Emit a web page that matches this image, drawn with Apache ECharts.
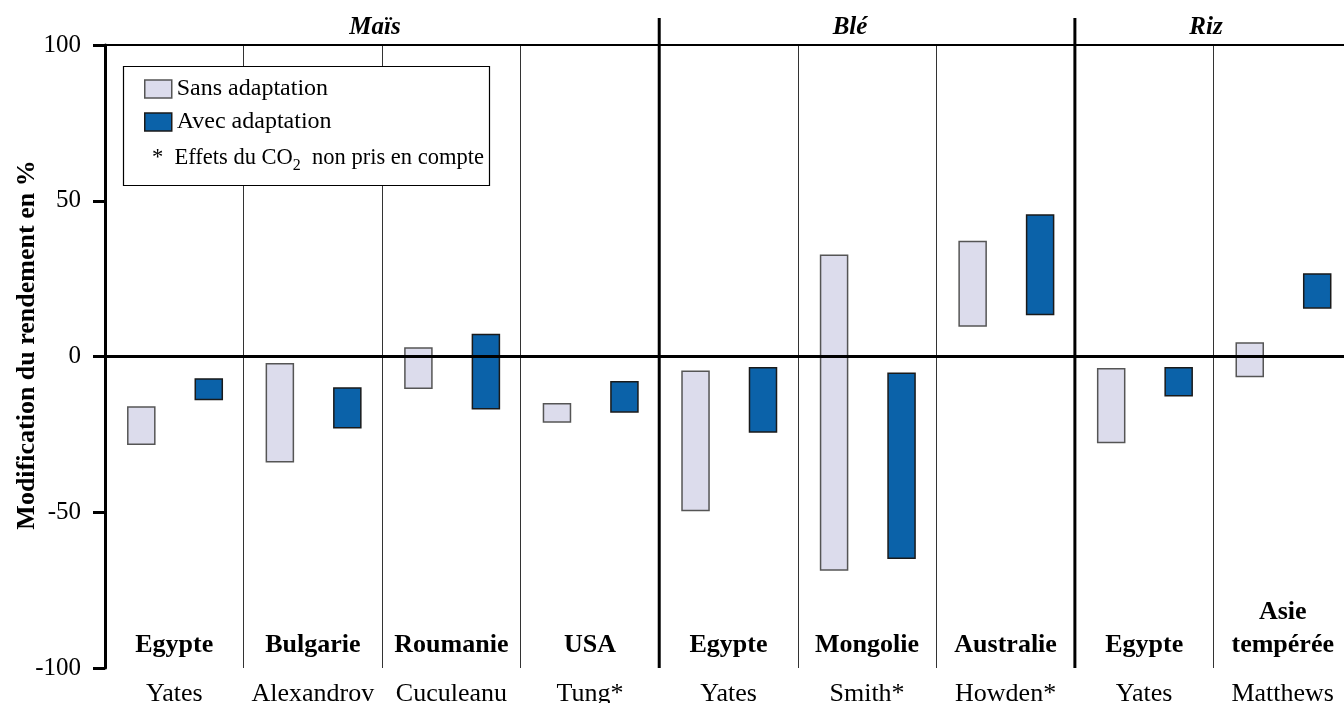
<!DOCTYPE html>
<html>
<head>
<meta charset="utf-8">
<script src="https://cdn.jsdelivr.net/npm/echarts@6/dist/echarts.min.js"></script>
<style>
html,body{margin:0;padding:0;background:#fff;}
#chart{width:1344px;height:703px;}
</style>
</head>
<body>
<div id="chart"></div>
<script>
// ---- Data ----
const authors = ['Yates', 'Alexandrov', 'Cuculeanu', 'Tung*', 'Yates', 'Smith*', 'Howden*', 'Yates', 'Matthews'];
const countries = ['Egypte', 'Bulgarie', 'Roumanie', 'USA', 'Egypte', 'Mongolie', 'Australie', 'Egypte', 'Asie\ntempérée'];
const cropNames = ['Maïs', 'Blé', 'Riz'];
const cropLastIndex = [3, 6, 8];
const sansLow  = [-28.2, -33.8, -10.2, -21.0, -49.4, -68.5, 9.8, -27.6, -6.4];
const sansHigh = [-16.2, -2.3, 2.7, -15.2, -4.7, 32.5, 36.9, -3.9, 4.3];
const avecLow  = [-13.8, -22.9, -16.8, -17.8, -24.2, -64.8, 13.5, -12.6, 15.6];
const avecHigh = [-7.2, -10.1, 7.1, -8.1, -3.6, -5.4, 45.4, -3.6, 26.5];
const yTicks = [-100, -50, 0, 50, 100];
const yAxisTitle = 'Modification du rendement en %';

const FONT = 'Liberation Serif';
const SANS_FILL = '#dcdcec', SANS_STROKE = '#555555';
const AVEC_FILL = '#0b62a9', AVEC_STROKE = '#1a1a1a';

function rangeRenderer(offset, fill, stroke) {
  return function (params, api) {
    const i = api.value(0);
    const lo = api.value(1), hi = api.value(2);
    const pTop = api.coord([i, hi]);
    const pBot = api.coord([i, lo]);
    const band = api.size([1, 0])[0];
    const w = band * 0.195;
    const cx = pTop[0] + offset * band;
    return {
      type: 'rect',
      shape: { x: cx - w / 2, y: pTop[1], width: w, height: pBot[1] - pTop[1] },
      style: { fill: fill, stroke: stroke, lineWidth: 1.5 }
    };
  };
}

const chart = echarts.init(document.getElementById('chart'), null, { renderer: 'canvas' });
const option = {
  backgroundColor: '#fff',
  animation: false,
  grid: { left: 105, right: -8, top: 45, bottom: 35, containLabel: false, outerBoundsMode: 'none' },
  legend: {
    orient: 'vertical', left: 144, top: 77, padding: 0,
    itemWidth: 27, itemHeight: 18, itemGap: 9,
    selectedMode: false, z: 12,
    textStyle: { fontFamily: FONT, fontSize: 24, color: '#000' },
    data: [
      { name: 'Sans adaptation', icon: 'rect', itemStyle: { color: SANS_FILL, borderColor: SANS_STROKE, borderWidth: 1.5 } },
      { name: 'Avec adaptation', icon: 'rect', itemStyle: { color: AVEC_FILL, borderColor: AVEC_STROKE, borderWidth: 1.5 } }
    ]
  },
  xAxis: [
    {
      type: 'category', data: authors, position: 'bottom', boundaryGap: true,
      axisLine: { show: true, lineStyle: { color: '#000', width: 3 } },
      axisTick: { show: false },
      axisLabel: { fontFamily: FONT, fontSize: 26, color: '#000', margin: 13, interval: 0 },
      splitLine: { show: true, lineStyle: { color: '#333', width: 1 } }
    },
    {
      type: 'category', data: countries, position: 'bottom', boundaryGap: true,
      axisLine: { show: false }, axisTick: { show: false },
      axisLabel: { inside: true, fontFamily: FONT, fontSize: 26, fontWeight: 'bold', color: '#000', margin: 6, interval: 0, lineHeight: 33 },
      splitLine: { show: false }
    },
    {
      type: 'category', data: authors, position: 'top', boundaryGap: true,
      axisLine: { show: true, lineStyle: { color: '#000', width: 2 } },
      axisTick: { show: false }, axisLabel: { show: false }, splitLine: { show: false }
    }
  ],
  yAxis: {
    type: 'value', min: -100, max: 100, interval: 50,
    axisLine: { show: true, lineStyle: { color: '#000', width: 3 } },
    axisTick: { show: true, length: 12, lineStyle: { color: '#000', width: 3 } },
    axisLabel: { fontFamily: FONT, fontSize: 25, color: '#000', margin: 24,
      formatter: function (v) { return yTicks.indexOf(v) >= 0 ? String(v) : ''; } },
    splitLine: { show: false }
  },
  series: [
    {
      name: 'Sans adaptation', type: 'custom', xAxisIndex: 0,
      itemStyle: { color: SANS_FILL, borderColor: SANS_STROKE },
      renderItem: rangeRenderer(-0.238, SANS_FILL, SANS_STROKE),
      encode: { x: 0, y: [1, 2] },
      data: authors.map((a, i) => [i, sansLow[i], sansHigh[i]]),
      markLine: {
        silent: true, symbol: ['none', 'none'], label: { show: false },
        lineStyle: { color: '#000', width: 3, type: 'solid' },
        data: [{ yAxis: 0 }]
      },
      z: 3
    },
    {
      name: 'Avec adaptation', type: 'custom', xAxisIndex: 0,
      itemStyle: { color: AVEC_FILL, borderColor: AVEC_STROKE },
      renderItem: rangeRenderer(0.249, AVEC_FILL, AVEC_STROKE),
      encode: { x: 0, y: [1, 2] },
      data: authors.map((a, i) => [i, avecLow[i], avecHigh[i]]),
      z: 3
    }
  ]
};
chart.setOption(option);

// ---- Annotations positioned from the axis scale ----
function catX(i) { return chart.convertToPixel({ xAxisIndex: 0 }, i); }
const band = catX(1) - catX(0);
const yBot = chart.convertToPixel({ yAxisIndex: 0 }, -100);
const graphics = [];
// thick separators between crop groups
cropLastIndex.slice(0, 2).forEach(function (idx) {
  const x = catX(idx) + band / 2;
  graphics.push({ type: 'line', shape: { x1: x, y1: 18, x2: x, y2: yBot }, style: { stroke: '#000', lineWidth: 3 }, z: 10 });
});
// crop titles
const titleX = [375, 850, 1206];
cropNames.forEach(function (n, k) {
  graphics.push({ type: 'text', x: titleX[k], y: 28, style: { text: n, font: 'italic bold 25px "' + FONT + '"', fill: '#000', align: 'center', verticalAlign: 'middle' }, z: 10 });
});
// y-axis title
graphics.push({ type: 'text', x: 27, y: 345, rotation: Math.PI / 2, z: 10,
  style: { text: yAxisTitle, font: 'bold 26px "' + FONT + '"', fill: '#000', align: 'center', verticalAlign: 'middle' } });
// legend box
graphics.push({ type: 'rect', shape: { x: 123.5, y: 66.5, width: 366, height: 119 }, style: { fill: '#fff', stroke: '#000', lineWidth: 1.2 }, z: 5 });
graphics.push({
  type: 'text', x: 152, y: 158, z: 11,
  style: {
    text: '*  Effets du CO{sub|2}  non pris en compte',
    font: '22.5px "' + FONT + '"', fill: '#000', verticalAlign: 'middle',
    rich: { sub: { fontSize: 16, fontFamily: FONT, padding: [15, 0, 0, 0], verticalAlign: 'bottom' } }
  }
});
chart.setOption({ graphic: graphics });
</script>
</body>
</html>
